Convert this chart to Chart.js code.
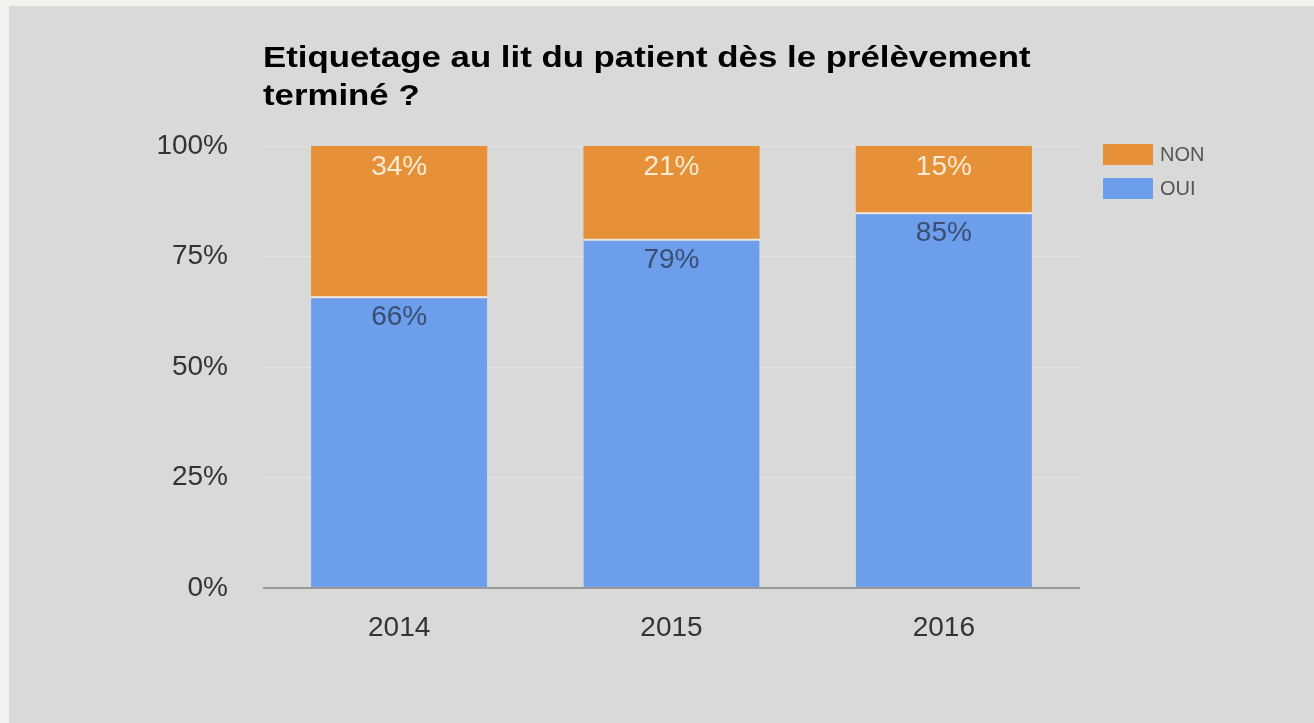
<!DOCTYPE html>
<html>
<head>
<meta charset="utf-8">
<script src="https://cdn.jsdelivr.net/npm/chart.js@4.4.1/dist/chart.umd.min.js"></script>
<style>
  html, body { margin: 0; padding: 0; background: #f4f2ee; }
  #wrap { position: absolute; left: 0; top: 0; width: 1314px; height: 723px; }
</style>
</head>
<body>
<div id="wrap"><canvas id="chart" width="1314" height="723"></canvas></div>
<script>
const years = ["2014", "2015", "2016"];
const oui = [66, 79, 85];
const non = [34, 21, 15];
const titleLines = ["Etiquetage au lit du patient dès le prélèvement", "terminé ?"];
const yTicks = [0, 25, 50, 75, 100];

const FONT = "'Liberation Sans', Arial, sans-serif";

// background frame + grey panel
const backdrop = {
  id: "backdrop",
  beforeDraw(chart) {
    const c = chart.ctx;
    c.save();
    c.fillStyle = "#f4f2ee";
    c.fillRect(0, 0, chart.width, chart.height);
    c.fillStyle = "#d9d9d9";
    c.fillRect(9, 6, chart.width - 9, chart.height - 6);
    c.restore();
  }
};

// title, legend and value labels
const extras = {
  id: "extras",
  afterDraw(chart) {
    const c = chart.ctx;
    const area = chart.chartArea;
    c.save();
    c.fillStyle = "#000";
    c.font = "bold 30px " + FONT;
    c.textAlign = "left";
    c.textBaseline = "alphabetic";
    // the original title font is a bit wider than Liberation Sans
    titleLines.forEach((t, i) => {
      c.save();
      c.translate(area.left, 67 + i * 38);
      c.scale(1.16, 1);
      c.fillText(t, 0, 0);
      c.restore();
    });

    // legend (top series first)
    const ds = chart.data.datasets;
    c.font = "20px " + FONT;
    c.textBaseline = "middle";
    [1, 0].forEach((k, i) => {
      const y = 144 + i * 34;
      c.fillStyle = ds[k].backgroundColor;
      c.fillRect(1103, y, 50, 21);
      c.fillStyle = "#555";
      c.fillText(ds[k].label, 1160, y + 11);
    });

    // value labels
    c.font = "28px " + FONT;
    c.textAlign = "center";
    ds.forEach((d, k) => {
      chart.getDatasetMeta(k).data.forEach((bar, j) => {
        c.fillStyle = k === 0 ? "#3a4e72" : "#fdebd3";
        c.fillText(d.data[j] + "%", bar.x, bar.y + 21);
      });
    });
    c.restore();
  }
};

new Chart(document.getElementById("chart"), {
  type: "bar",
  data: {
    labels: years,
    datasets: [
      {
        label: "OUI",
        data: oui,
        backgroundColor: "#6d9eeb",
        borderColor: "#efe6dc",
        borderWidth: { top: 2, left: 0, right: 0, bottom: 0 },
        borderSkipped: false,
        barPercentage: 0.647,
        categoryPercentage: 1
      },
      {
        label: "NON",
        data: non,
        backgroundColor: "#e69138",
        borderWidth: 0,
        barPercentage: 0.647,
        categoryPercentage: 1
      }
    ]
  },
  options: {
    responsive: false,
    animation: false,
    layout: { padding: { left: 133, right: 234, top: 146, bottom: 75 } },
    plugins: {
      legend: { display: false },
      title: { display: false },
      tooltip: { enabled: false }
    },
    scales: {
      x: {
        stacked: true,
        grid: { display: false },
        border: { display: false },
        ticks: { color: "#333", font: { family: FONT, size: 28 }, padding: 15 },
        afterFit(s) { s.height = 60; }
      },
      y: {
        stacked: true,
        min: 0,
        max: 100,
        afterBuildTicks(s) { s.ticks = yTicks.map(v => ({ value: v })); },
        grid: {
          drawTicks: false,
          color: ctx => ctx.tick && ctx.tick.value === 0 ? "#999" : "#e4e4e4",
          lineWidth: ctx => ctx.tick && ctx.tick.value === 0 ? 2 : 1
        },
        border: { display: false },
        ticks: {
          color: "#333",
          font: { family: FONT, size: 28 },
          padding: 35,
          callback: v => v + "%"
        },
        afterFit(s) { s.width = 130; }
      }
    }
  },
  plugins: [backdrop, extras]
});
</script>
</body>
</html>
